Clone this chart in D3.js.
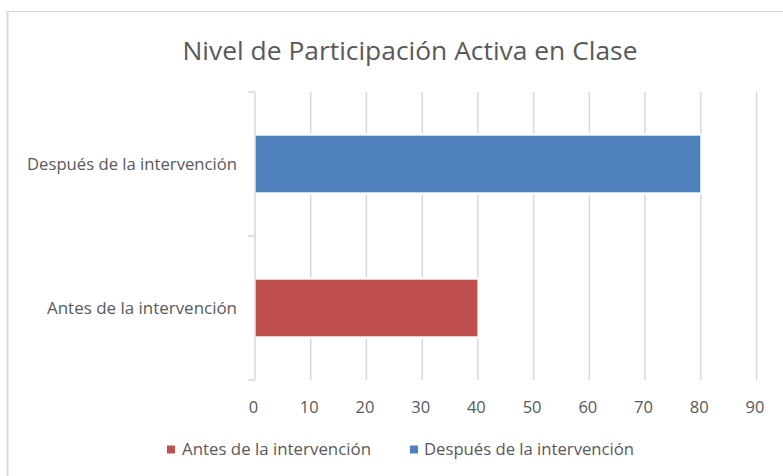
<!DOCTYPE html>
<html>
<head>
<meta charset="utf-8">
<script src="https://cdn.jsdelivr.net/npm/d3@7"></script>
<style>
  html, body { margin: 0; padding: 0; background: #fff; }
  svg { display: block; }
  text { font-family: "Open Sans", "Noto Sans", sans-serif; fill: #595959; }
</style>
</head>
<body>
<div id="chart"></div>
<script>
const title = "Nivel de Participación Activa en Clase";
const categories = ["Antes de la intervención", "Después de la intervención"];
const values = [40, 80];
const colors = ["#C0504D", "#4F81BD"];
const xTicks = [0, 10, 20, 30, 40, 50, 60, 70, 80, 90];

const W = 783, H = 476;
const svg = d3.select("#chart").append("svg").attr("width", W).attr("height", H);

// outer chart border (only top/left inside the image)
svg.append("line").attr("x1", 7).attr("x2", W).attr("y1", 11.5).attr("y2", 11.5)
  .attr("stroke", "#d9d9d9").attr("stroke-width", 1);
svg.append("line").attr("x1", 7.5).attr("x2", 7.5).attr("y1", 11).attr("y2", H)
  .attr("stroke", "#d9d9d9").attr("stroke-width", 2);

const plot = { left: 255, right: 756.5, top: 92, bottom: 380 };

const x = d3.scaleLinear().domain([0, 90]).range([plot.left, plot.right]);
// categories drawn bottom-to-top: first category at bottom
const y = d3.scaleBand().domain(categories.slice().reverse())
  .range([plot.top, plot.bottom]).paddingInner(0.6).paddingOuter(0.3);
const yb = d3.scaleBand().domain(categories.slice().reverse())
  .range([plot.top, plot.bottom]).padding(0);

// title
svg.append("text")
  .attr("x", 410).attr("y", 60)
  .attr("text-anchor", "middle")
  .attr("font-size", 25)
  .attr("textLength", 455).attr("lengthAdjust", "spacingAndGlyphs")
  .text(title);

// gridlines
const grid = svg.append("g");
grid.selectAll("line").data(xTicks.filter(d => d > 0)).enter().append("line")
  .attr("x1", d => x(d)).attr("x2", d => x(d))
  .attr("y1", plot.top).attr("y2", plot.bottom)
  .attr("stroke", "#d9d9d9").attr("stroke-width", 1.5);

// bars with white border
svg.append("g").selectAll("rect").data(categories).enter().append("rect")
  .attr("x", x(0))
  .attr("y", d => y(d))
  .attr("width", (d, i) => x(values[i]) - x(0))
  .attr("height", y.bandwidth())
  .attr("fill", (d, i) => colors[i])
  .attr("stroke", "#fff").attr("stroke-width", 3);
svg.append("g").selectAll("rect").data(categories).enter().append("rect")
  .attr("x", x(0) + 0.5)
  .attr("y", d => y(d) + 0.5)
  .attr("width", (d, i) => x(values[i]) - x(0) - 1)
  .attr("height", y.bandwidth() - 1)
  .attr("fill", (d, i) => colors[i]);

// vertical category axis
const yAxis = svg.append("g");
yAxis.append("line")
  .attr("x1", plot.left).attr("x2", plot.left)
  .attr("y1", plot.top).attr("y2", plot.bottom)
  .attr("stroke", "#d9d9d9").attr("stroke-width", 1.5);
const bounds = [plot.top].concat(yb.domain().map(d => yb(d) + yb.bandwidth()));
yAxis.selectAll("line.tick").data(bounds).enter().append("line")
  .attr("class", "tick")
  .attr("x1", plot.left - 7).attr("x2", plot.left)
  .attr("y1", d => d).attr("y2", d => d)
  .attr("stroke", "#d9d9d9").attr("stroke-width", 1.5);

// category labels
const labelWidths = { "Antes de la intervención": 190, "Después de la intervención": 210 };
yAxis.selectAll("text").data(categories).enter().append("text")
  .attr("x", 237)
  .attr("y", d => yb(d) + yb.bandwidth() / 2)
  .attr("dy", "0.35em")
  .attr("text-anchor", "end")
  .attr("font-size", 17)
  .attr("textLength", d => labelWidths[d]).attr("lengthAdjust", "spacingAndGlyphs")
  .text(d => d);

// x tick labels
svg.append("g").selectAll("text").data(xTicks).enter().append("text")
  .attr("x", d => x(d) - 1.5)
  .attr("y", 413)
  .attr("text-anchor", "middle")
  .attr("font-size", 16.5)
  .text(d => d);

// legend
const legendItems = [
  { name: categories[0], color: colors[0], sx: 167, tx: 182, w: 189 },
  { name: categories[1], color: colors[1], sx: 410, tx: 424, w: 210 }
];
const lg = svg.append("g");
lg.selectAll("rect").data(legendItems).enter().append("rect")
  .attr("x", d => d.sx).attr("y", 445.5).attr("width", 8).attr("height", 8)
  .attr("fill", d => d.color);
lg.selectAll("text").data(legendItems).enter().append("text")
  .attr("x", d => d.tx).attr("y", 455)
  .attr("font-size", 17)
  .attr("textLength", d => d.w).attr("lengthAdjust", "spacingAndGlyphs")
  .text(d => d.name);
</script>
</body>
</html>
